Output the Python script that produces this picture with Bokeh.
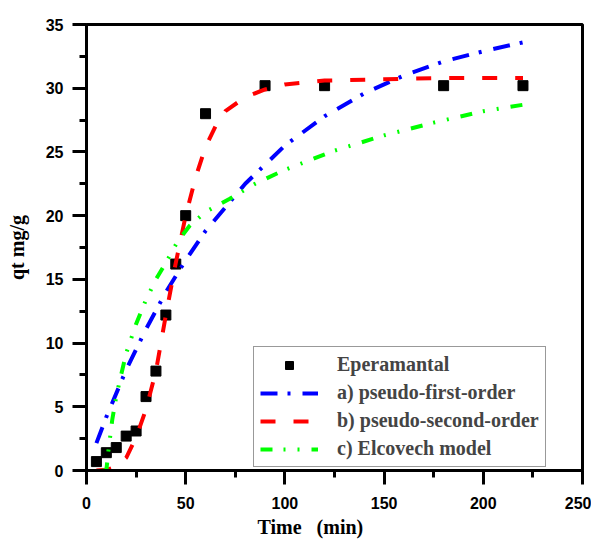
from bokeh.plotting import figure
from bokeh.models import Range1d, Legend, LegendItem, SingleIntervalTicker, Title
from bokeh.embed import file_html
from bokeh.resources import INLINE

# Experimental data
exp_t = [5, 10, 15, 20, 25, 30, 35, 40, 45, 50, 60, 90, 120, 180, 220]
exp_q = [0.7, 1.4, 1.8, 2.7, 3.1, 5.8, 7.8, 12.2, 16.2, 20.0, 28.0, 30.2, 30.2, 30.2, 30.2]

# a) pseudo-first-order
pfo_t = [5, 10, 20, 30, 40, 50, 60, 80, 100, 120, 140, 160, 180, 200, 220]
pfo_q = [2.15, 4.2, 7.9, 11.1, 14.0, 16.5, 18.8, 22.5, 25.5, 27.8, 29.6, 31.0, 32.1, 32.9, 33.6]

# b) pseudo-second-order
pso_t = [5, 10, 15, 20, 25, 30, 35, 40, 45, 50, 55, 60, 65, 70, 80, 90, 100, 120, 150, 180, 220]
pso_q = [0.0, 0.05, 0.3, 1.0, 2.6, 4.8, 7.8, 12.2, 16.3, 20.0, 23.0, 25.4, 27.0, 28.2, 29.3, 29.9, 30.3, 30.6, 30.7, 30.8, 30.8]

# c) Elcovech model
elc_t = [8, 10, 11, 13, 15, 17, 20, 25, 30, 35, 40, 46, 52, 60, 72, 85, 100, 125, 150, 175, 200, 220]
elc_q = [0.0, 0.0, 1.5, 4.0, 5.8, 7.2, 9.2, 11.5, 13.4, 15.0, 16.3, 18.0, 19.2, 20.3, 21.3, 22.5, 23.6, 25.1, 26.3, 27.3, 28.2, 28.7]

x_ticks_interval = 50
y_ticks_interval = 5

p = figure(width=591, height=542, x_range=Range1d(0, 250), y_range=Range1d(0, 35),
           output_backend="svg", toolbar_location=None,
           min_border_left=86, min_border_right=9, min_border_top=24, min_border_bottom=72)

p.xgrid.visible = False
p.ygrid.visible = False
p.outline_line_color = "black"
p.outline_line_width = 3
p.background_fill_color = "white"
p.border_fill_color = "white"

p.xaxis.ticker = SingleIntervalTicker(interval=x_ticks_interval, num_minor_ticks=2)
p.yaxis.ticker = SingleIntervalTicker(interval=y_ticks_interval, num_minor_ticks=2)

for ax in (p.xaxis[0], p.yaxis[0]):
    ax.axis_line_width = 3
    ax.axis_line_color = "black"
    ax.major_tick_in = 0
    ax.major_tick_out = 14
    ax.minor_tick_in = 0
    ax.minor_tick_out = 7
    ax.major_tick_line_width = 3
    ax.minor_tick_line_width = 3
    ax.major_label_text_font = "Liberation Sans"
    ax.major_label_text_font_style = "bold"
    ax.major_label_text_font_size = "16px"
    ax.major_label_text_color = "black"
    ax.axis_label_text_font = "Liberation Serif"
    ax.axis_label_text_font_style = "bold"
    ax.axis_label_text_font_size = "20px"
    ax.axis_label_text_color = "black"

p.yaxis.axis_label = "qt mg/g"
p.xaxis.major_label_standoff = 12
p.yaxis.major_label_standoff = 9
p.yaxis.axis_label_standoff = 15

xtitle = Title(text="Time\u00a0\u00a0\u00a0(min)", align="left", offset=171,
               text_font="Liberation Serif", text_font_style="bold",
               text_font_size="20px", text_color="black", standoff=4)
p.add_layout(xtitle, "below")

r_exp = p.scatter(exp_t, exp_q, marker="square", size=10, color="black")
r_pfo = p.line(pfo_t, pfo_q, line_color="blue", line_width=4, line_dash="17 10 3 12")
r_pso = p.line(pso_t, pso_q, line_color="red", line_width=4, line_dash="15 18")
r_elc = p.line(elc_t, elc_q, line_color="#00ff00", line_width=4, line_dash="12 11 2 12 2 12")

legend = Legend(items=[
    LegendItem(label="Eperamantal", renderers=[r_exp]),
    LegendItem(label="a) pseudo-first-order", renderers=[r_pfo]),
    LegendItem(label="b) pseudo-second-order", renderers=[r_pso]),
    LegendItem(label="c) Elcovech model", renderers=[r_elc]),
], location=(167, 3))
legend.label_text_font = "Liberation Serif"
legend.label_text_font_style = "bold"
legend.label_text_font_size = "20px"
legend.label_height = 20
legend.glyph_height = 20
legend.glyph_width = 58
legend.label_standoff = 19
legend.spacing = 5
legend.padding = 6
legend.margin = 0
legend.border_line_color = "#333333"
legend.border_line_width = 1.5
legend.background_fill_alpha = 1
p.add_layout(legend, "center")

open("out.html", "w").write(file_html(p, INLINE))
